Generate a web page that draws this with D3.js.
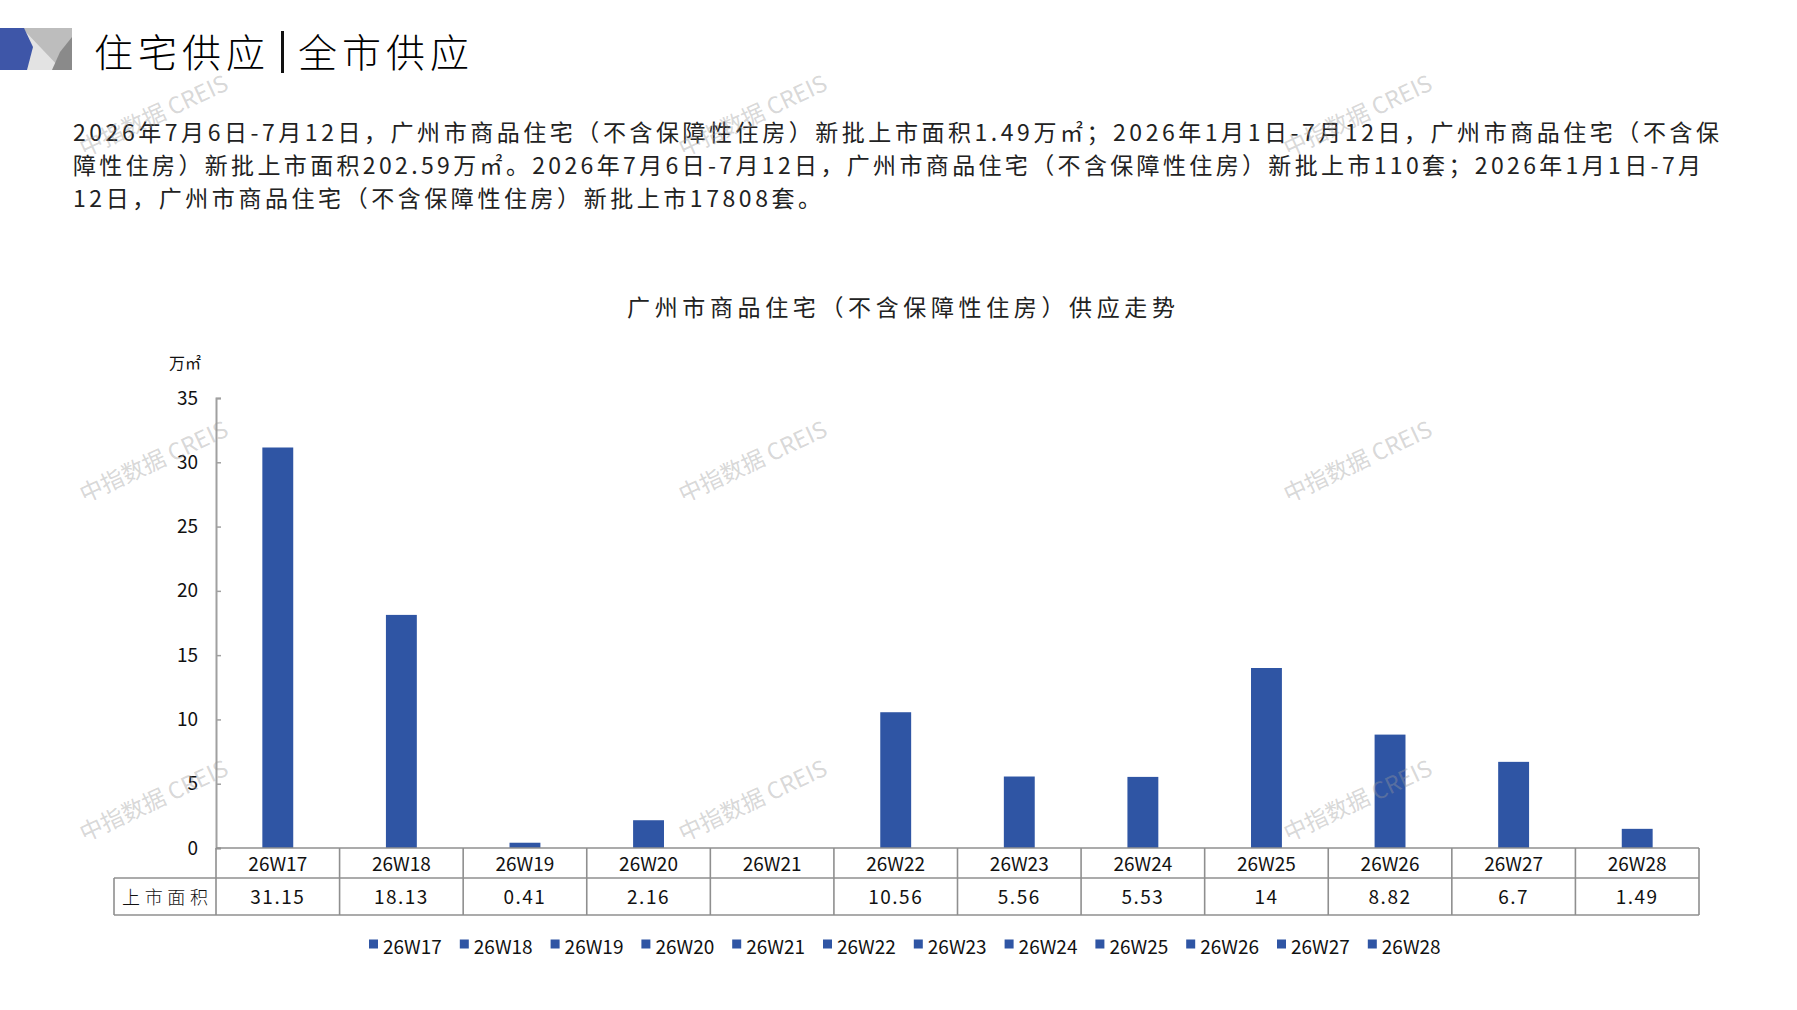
<html>
<head>
<meta charset="utf-8">
<script src="https://d3js.org/d3.v7.min.js"></script>
<style>
  body { margin: 0; background: #fff; }
  text { font-family: "Noto Sans CJK SC", "Noto Sans", sans-serif; }
</style>
</head>
<body>
<div id="chart"></div>
<script>

// data
var weeks = ["26W17", "26W18", "26W19", "26W20", "26W21", "26W22", "26W23", "26W24", "26W25", "26W26", "26W27", "26W28"];
var area = [31.15, 18.13, 0.41, 2.16, null, 10.56, 5.56, 5.53, 14, 8.82, 6.7, 1.49];
var yTicks = [0, 5, 10, 15, 20, 25, 30, 35];
var rowLabel = "上市面积";
var unitLabel = "万㎡";
var chartTitle = "广州市商品住宅（不含保障性住房）供应走势";
var paragraph = [
  "2026年7月6日-7月12日，广州市商品住宅（不含保障性住房）新批上市面积1.49万㎡；2026年1月1日-7月12日，广州市商品住宅（不含保",
  "障性住房）新批上市面积202.59万㎡。2026年7月6日-7月12日，广州市商品住宅（不含保障性住房）新批上市110套；2026年1月1日-7月",
  "12日，广州市商品住宅（不含保障性住房）新批上市17808套。"
];

var W = 1797, H = 1010;
var blue = "#2F55A4";
var gridGray = "#8f8f8f";

var svg = d3.select("#chart")
  .append("svg")
    .attr("width", W)
    .attr("height", H);

// header logo
var logo = svg.append("g");
logo.append("rect").attr("x", 22).attr("y", 28).attr("width", 50).attr("height", 42).attr("fill", "#bdbdbd");
logo.append("polygon").attr("points", "22,28 62,70 24,70").attr("fill", "#e3e3e3");
logo.append("polygon").attr("points", "72,37 72,70 52,70 60,52").attr("fill", "#8a8a8a");
logo.append("polygon").attr("points", "0,28 24,28 33,47 27,70 0,70").attr("fill", "#3E56A8");

// header title
svg.append("text")
  .attr("x", 94).attr("y", 50)
  .attr("dominant-baseline", "central")
  .attr("font-size", 39).attr("font-weight", 300)
  .attr("textLength", 171).attr("lengthAdjust", "spacing")
  .text("住宅供应");
svg.append("rect").attr("x", 281).attr("y", 31).attr("width", 3).attr("height", 42).attr("fill", "#111");
svg.append("text")
  .attr("x", 298).attr("y", 50)
  .attr("dominant-baseline", "central")
  .attr("font-size", 39).attr("font-weight", 300)
  .attr("textLength", 171).attr("lengthAdjust", "spacing")
  .text("全市供应");

// paragraph
var lineEnds = [1719, 1701, 821];
var lineY = [131, 164, 197];
paragraph.forEach(function(t, i) {
  svg.append("text")
    .attr("x", 73).attr("y", lineY[i])
    .attr("dominant-baseline", "central")
    .attr("font-size", 23)
    .attr("fill", "#222")
    .attr("textLength", lineEnds[i] - 73).attr("lengthAdjust", "spacing")
    .text(t);
});

// chart title
svg.append("text")
  .attr("x", 627).attr("y", 306)
  .attr("dominant-baseline", "central")
  .attr("font-size", 23)
  .attr("fill", "#222")
  .attr("textLength", 548).attr("lengthAdjust", "spacing")
  .text(chartTitle);

// scales
var x = d3.scaleBand()
  .domain(weeks)
  .range([216, 1699])
  .padding(0);

var y = d3.scaleLinear()
  .domain([0, 35])
  .range([848, 398]);

var barW = x.bandwidth() * 0.25;

// unit label
svg.append("text")
  .attr("x", 185).attr("y", 362)
  .attr("text-anchor", "middle")
  .attr("dominant-baseline", "central")
  .attr("font-size", 16)
  .attr("fill", "#111")
  .text(unitLabel);

// y axis
var yAxis = svg.append("g")
  .attr("transform", "translate(216,0)")
  .call(d3.axisLeft(y).tickValues(yTicks).tickSize(-5).tickPadding(18));
yAxis.select(".domain").attr("stroke", "#a0a0a0").attr("stroke-width", 2);
yAxis.selectAll(".tick line").attr("stroke", "#a0a0a0").attr("stroke-width", 1.5);
yAxis.selectAll(".tick text")
  .attr("font-family", "Liberation Sans, Arial, sans-serif")
  .attr("font-size", 19)
  .attr("fill", "#111");

// bars
svg.selectAll("rect.bar")
  .data(area.map(function(v, i) { return {week: weeks[i], value: v}; }).filter(function(d) { return d.value != null; }))
  .enter()
  .append("rect")
    .attr("class", "bar")
    .attr("x", function(d) { return x(d.week) + (x.bandwidth() - barW) / 2; })
    .attr("width", barW)
    .attr("y", function(d) { return y(d.value); })
    .attr("height", function(d) { return y(0) - y(d.value); })
    .attr("fill", blue);

// data table under the axis
var row1 = y(0), row2 = 878, row3 = 915, tableLeft = 114;
var tbl = svg.append("g").attr("stroke", gridGray).attr("stroke-width", 1.6).attr("fill", "none");
tbl.append("line").attr("x1", 216).attr("x2", x.range()[1]).attr("y1", row1).attr("y2", row1);
tbl.append("line").attr("x1", tableLeft).attr("x2", x.range()[1]).attr("y1", row2).attr("y2", row2);
tbl.append("line").attr("x1", tableLeft).attr("x2", x.range()[1]).attr("y1", row3).attr("y2", row3);
tbl.append("line").attr("x1", tableLeft).attr("x2", tableLeft).attr("y1", row2).attr("y2", row3);
tbl.selectAll("line.col")
  .data(weeks.concat(["end"]))
  .enter()
  .append("line")
    .attr("x1", function(d, i) { return i < weeks.length ? x(d) : x.range()[1]; })
    .attr("x2", function(d, i) { return i < weeks.length ? x(d) : x.range()[1]; })
    .attr("y1", row1).attr("y2", row3);

svg.selectAll("text.cat")
  .data(weeks)
  .enter()
  .append("text")
    .attr("class", "cat")
    .attr("x", function(d) { return x(d) + x.bandwidth() / 2; })
    .attr("y", (row1 + row2) / 2 - 1)
    .attr("text-anchor", "middle")
    .attr("dominant-baseline", "central")
    .attr("font-size", 19)
    .attr("fill", "#111")
    .text(function(d) { return d; });

svg.selectAll("text.val")
  .data(area)
  .enter()
  .append("text")
    .attr("class", "val")
    .attr("x", function(d, i) { return x(weeks[i]) + x.bandwidth() / 2; })
    .attr("y", (row2 + row3) / 2 - 1)
    .attr("text-anchor", "middle")
    .attr("dominant-baseline", "central")
    .attr("font-size", 19)
    .attr("letter-spacing", 1.5)
    .attr("fill", "#111")
    .text(function(d) { return d == null ? "" : String(d); });

svg.append("text")
  .attr("x", 122).attr("y", (row2 + row3) / 2 - 1)
  .attr("dominant-baseline", "central")
  .attr("font-size", 18).attr("font-weight", 300)
  .attr("fill", "#111")
  .attr("textLength", 86).attr("lengthAdjust", "spacing")
  .text(rowLabel);

// legend
var legend = svg.selectAll("g.leg")
  .data(weeks)
  .enter()
  .append("g")
    .attr("class", "leg")
    .attr("transform", function(d, i) { return "translate(" + (369 + i * 90.8) + ",944)"; });
legend.append("rect")
  .attr("x", 0).attr("y", -4.5)
  .attr("width", 9).attr("height", 9)
  .attr("fill", blue);
legend.append("text")
  .attr("x", 14).attr("y", 1)
  .attr("dominant-baseline", "central")
  .attr("font-size", 19)
  .attr("fill", "#111")
  .text(function(d) { return d; });

// watermarks
var marks = [];
[153, 752, 1357].forEach(function(mx) {
  [114, 460, 799].forEach(function(my) { marks.push([mx, my]); });
});
svg.selectAll("text.wm")
  .data(marks)
  .enter()
  .append("text")
    .attr("class", "wm")
    .attr("transform", function(d) { return "translate(" + d[0] + "," + d[1] + ")rotate(-25)"; })
    .attr("text-anchor", "middle")
    .attr("dominant-baseline", "central")
    .attr("font-size", 23)
    .attr("fill", "#9a9a9a")
    .attr("fill-opacity", 0.4)
    .text("中指数据 CREIS");

</script>
</body>
</html>
